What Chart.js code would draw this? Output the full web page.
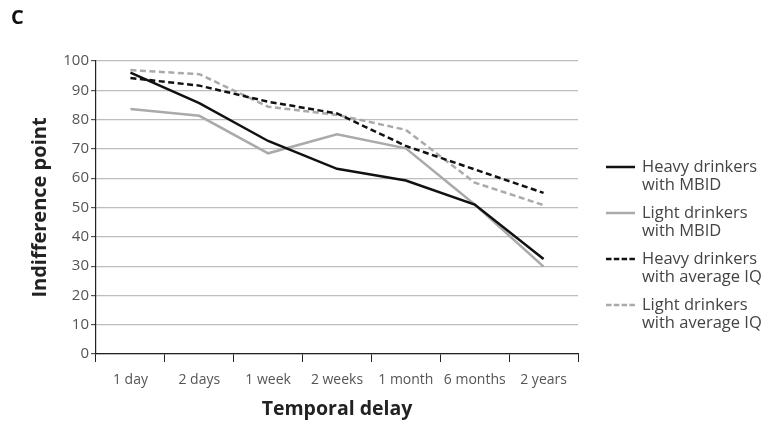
<!DOCTYPE html>
<html>
<head>
<meta charset="utf-8">
<script src="https://cdn.jsdelivr.net/npm/chart.js@4/dist/chart.umd.min.js"></script>
<style>
  html, body { margin: 0; padding: 0; background: #fff; }
  #wrap { position: relative; width: 768px; height: 426px; font-family: "Open Sans", sans-serif; }
  #panel { position: absolute; left: 11px; top: 3px; font-weight: 700; font-size: 20px; color: #111; }
  #legend { position: absolute; left: 606px; top: 157px; color: #444; font-size: 16.5px; line-height: 17.5px; }
  .item { position: relative; padding-left: 36px; margin-bottom: 11px; white-space: nowrap; }
  .swatch { position: absolute; left: 0; top: 8px; }
</style>
</head>
<body>
<div id="wrap">
  <canvas id="c" width="768" height="426"></canvas>
  <div id="panel">C</div>
  <div id="legend"></div>
</div>
<script>
const categories = ["1 day", "2 days", "1 week", "2 weeks", "1 month", "6 months", "2 years"];
const heavyMBID = [96, 85.6, 72.7, 63.2, 59.2, 51, 32.4];
const lightMBID = [83.6, 81.3, 68.5, 75, 70.2, 51, 29.8];
const heavyAvgIQ = [94.2, 91.6, 86.1, 82.1, 71, 63, 55];
const lightAvgIQ = [96.9, 95.5, 84.4, 81.6, 76.5, 58.5, 50.8];
const seriesNames = [
  ["Heavy drinkers", "with MBID"],
  ["Light drinkers", "with MBID"],
  ["Heavy drinkers", "with average IQ"],
  ["Light drinkers", "with average IQ"]
];

const BLACK = "#111111";
const GREY = "#aaaaaa";
const styles = [
  { color: BLACK, dash: [] },
  { color: GREY, dash: [] },
  { color: BLACK, dash: [6, 3.5] },
  { color: GREY, dash: [6, 3.5] }
];
const values = [heavyMBID, lightMBID, heavyAvgIQ, lightAvgIQ];

const datasets = values.map((v, i) => ({
  label: seriesNames[i].join(" "),
  data: v,
  borderColor: styles[i].color,
  borderDash: styles[i].dash,
  borderWidth: 2.5,
  pointRadius: 0,
  tension: 0,
  fill: false
}));

// HTML legend with two-line labels and small line samples
const legend = document.getElementById("legend");
const SVGNS = "http://www.w3.org/2000/svg";
seriesNames.forEach((name, i) => {
  const d = document.createElement("div");
  d.className = "item";
  const svg = document.createElementNS(SVGNS, "svg");
  svg.setAttribute("class", "swatch");
  svg.setAttribute("width", "29");
  svg.setAttribute("height", "4");
  const ln = document.createElementNS(SVGNS, "line");
  ln.setAttribute("x1", "0"); ln.setAttribute("x2", "29");
  ln.setAttribute("y1", "2"); ln.setAttribute("y2", "2");
  ln.setAttribute("stroke", styles[i].color);
  ln.setAttribute("stroke-width", "2.5");
  if (styles[i].dash.length) ln.setAttribute("stroke-dasharray", "5.5 2.3");
  svg.appendChild(ln);
  d.appendChild(svg);
  d.appendChild(document.createTextNode(name[0]));
  d.appendChild(document.createElement("br"));
  d.appendChild(document.createTextNode(name[1]));
  legend.appendChild(d);
});

new Chart(document.getElementById("c"), {
  type: "line",
  data: { labels: categories, datasets },
  options: {
    responsive: false,
    animation: false,
    layout: { padding: { left: 0, right: 190, top: 61, bottom: 0 } },
    plugins: { legend: { display: false }, tooltip: { enabled: false } },
    scales: {
      x: {
        offset: true,
        grid: {
          offset: true,
          drawOnChartArea: false,
          color: "#222",
          tickLength: 8,
          lineWidth: 1
        },
        border: { color: "#222", width: 1.2 },
        ticks: { color: "#555", font: { family: "Open Sans", size: 14 }, padding: 10, maxRotation: 0 },
        title: {
          display: true,
          text: "Temporal delay",
          color: "#222",
          font: { family: "Open Sans", size: 19.5, weight: "bold" },
          padding: { top: 5, bottom: 5 }
        },
        afterFit(s) { s.height = 72; }
      },
      y: {
        min: 0,
        max: 100,
        ticks: { stepSize: 10, color: "#555", font: { family: "Open Sans", size: 15 }, padding: 2 },
        grid: { color: "#bdbdbd", tickColor: "#555", tickLength: 5, lineWidth: 1.2 },
        border: { color: "#222", width: 1.2 },
        title: {
          display: true,
          text: "Indifference point",
          color: "#222",
          font: { family: "Open Sans", size: 20, weight: "bold" },
          padding: { top: 28, bottom: 4 }
        },
        afterFit(s) { s.width = 96; }
      }
    }
  }
});
</script>
</body>
</html>
